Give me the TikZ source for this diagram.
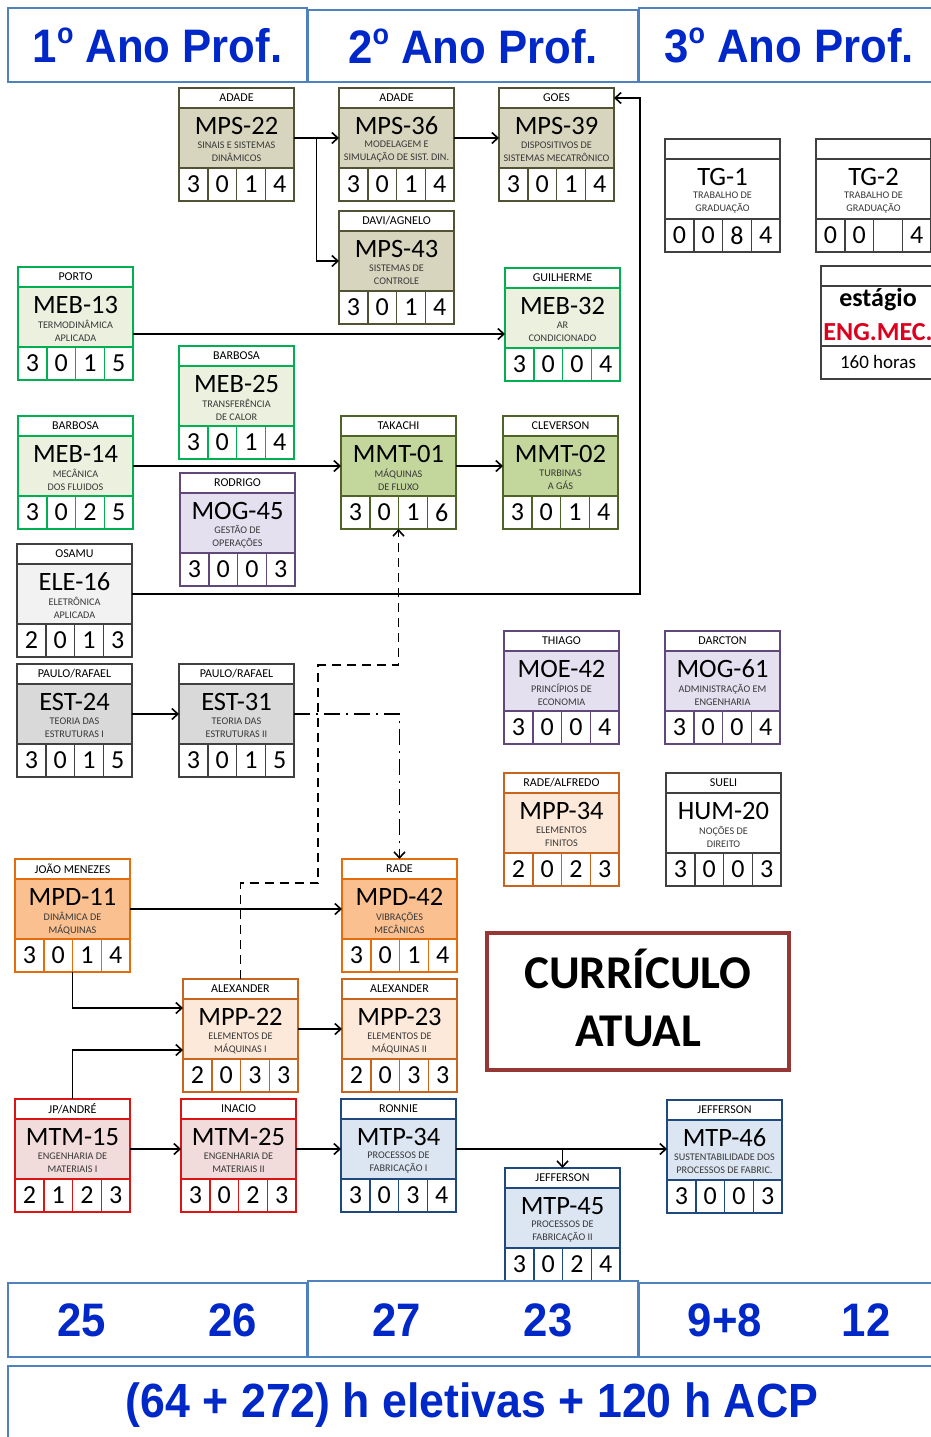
\documentclass[tikz,border=0pt]{standalone}
\usepackage{fontspec}
\setmainfont{Carlito}
\newfontfamily\headfont[FakeStretch=0.93]{Liberation Sans}
\usetikzlibrary{arrows.meta,fit,calc}

% course families: border (D) and band fill (F)
\definecolor{mpsD}{RGB}{82,82,52}   \definecolor{mpsF}{RGB}{216,213,190}
\definecolor{mebD}{RGB}{0,176,80}   \definecolor{mebF}{RGB}{235,241,222}
\definecolor{mmtD}{RGB}{79,98,40}   \definecolor{mmtF}{RGB}{195,214,155}
\definecolor{mogD}{RGB}{96,73,122}  \definecolor{mogF}{RGB}{229,224,240}
\definecolor{eleD}{RGB}{64,64,64}   \definecolor{eleF}{RGB}{242,242,242}
\definecolor{estD}{RGB}{64,64,64}   \definecolor{estF}{RGB}{217,217,217}
\definecolor{mpdD}{RGB}{228,108,10} \definecolor{mpdF}{RGB}{250,192,144}
\definecolor{mppD}{RGB}{200,100,30} \definecolor{mppF}{RGB}{253,233,217}
\definecolor{mtmD}{RGB}{220,20,20}  \definecolor{mtmF}{RGB}{242,220,219}
\definecolor{mtpD}{RGB}{31,73,125}  \definecolor{mtpF}{RGB}{220,230,242}
\definecolor{plainD}{RGB}{64,64,64} \definecolor{plainF}{RGB}{255,255,255}
\definecolor{hdrline}{RGB}{79,129,189}
\definecolor{hdrblue}{RGB}{0,40,200}
\definecolor{curred}{RGB}{150,55,53}
\definecolor{engred}{RGB}{220,0,30}

\newcommand\ordo{\raisebox{19pt}{\fontsize{29}{29}\selectfont o}}

\tikzset{
  every node/.style={outer sep=0pt},
  namebox/.style={draw, fill=white, line width=1.5pt, minimum width=115pt,
    minimum height=20pt, inner sep=0pt, font=\fontsize{12}{12}\selectfont},
  midbox/.style={draw, line width=1.5pt, minimum width=115pt,
    minimum height=60pt, inner sep=0pt},
  cellbox/.style={draw, fill=white, line width=1.5pt, minimum width=28.75pt,
    minimum height=33pt, inner sep=0pt, font=\fontsize{26}{26}\selectfont},
  codetext/.style={inner sep=0pt, font=\fontsize{26.5}{26.5}\selectfont},
  desctext/.style={inner sep=0pt, align=center,
    font=\fontsize{10.2}{13}\selectfont, text=black!78},
  hdrbox/.style={draw=hdrline, fill=white, line width=2pt, inner sep=0pt,
    text=hdrblue, font=\headfont\bfseries\fontsize{47}{47}\selectfont},
  numtext/.style={inner sep=0pt, text=hdrblue,
    font=\headfont\bfseries\fontsize{47}{47}\selectfont},
  conn/.style={line width=1.6pt, -{Straight Barb[length=6pt,width=11pt]}},
  dconn/.style={conn, dash pattern=on 9pt off 6pt},
  ddconn/.style={conn, dash pattern=on 16pt off 6pt on 2pt off 6pt},
}

% #1 id, #2 top-left, #3 family, #4 teacher, #5 code, #6 title, #7 credits
\newcommand\course[7]{%
  \node[namebox, draw=#3D, anchor=north west] (#1-t) at #2 {#4};
  \node[midbox, draw=#3D, fill=#3F, anchor=north] (#1-m) at (#1-t.south) {};
  \node[codetext] (#1-code) at ([yshift=-18pt]#1-m.north) {#5};
  \node[desctext] (#1-desc) at ([yshift=-44pt]#1-m.north) {#6};
  \foreach \cdig [count=\cidx] in {#7}{
    \node[cellbox, draw=#3D, anchor=north west] (#1-c\cidx)
      at ([xshift={(\cidx-1)*28.75pt}]#1-m.south west) {\cdig};
  }
  \node[fit=(#1-t)(#1-c4), inner sep=0pt] (#1) {};
}

\begin{document}
\begin{tikzpicture}[x=1pt,y=-1pt]
\fill[white] (0,0) rectangle (930,1437);
\useasboundingbox (0,0) rectangle (930,1437);

% year headers
\node[hdrbox, minimum width=299pt, minimum height=74pt, anchor=north west] (h1) at (8,8) {1\ordo\ Ano Prof.};
\node[hdrbox, minimum width=330pt, minimum height=72pt, anchor=north west] (h2) at (308,10) {2\ordo\ Ano Prof.};
\node[hdrbox, minimum width=300pt, minimum height=74pt, anchor=north west] (h3) at (639,8) {3\ordo\ Ano Prof.};

% courses
\course{mps22}{(179,88)}{mps}{ADADE}{MPS-22}{SINAIS E SISTEMAS\\DINÂMICOS}{3,0,1,4}
\course{mps36}{(339,88)}{mps}{ADADE}{MPS-36}{MODELAGEM E\\SIMULAÇÃO DE SIST. DIN.}{3,0,1,4}
\course{mps39}{(499,88)}{mps}{GOES}{MPS-39}{DISPOSITIVOS DE\\SISTEMAS MECATRÔNICO}{3,0,1,4}
\course{mps43}{(339,211)}{mps}{DAVI/AGNELO}{MPS-43}{SISTEMAS DE\\CONTROLE}{3,0,1,4}
\course{meb13}{(18,267)}{meb}{PORTO}{MEB-13}{TERMODINÂMICA\\APLICADA}{3,0,1,5}
\course{meb32}{(505,268)}{meb}{GUILHERME}{MEB-32}{AR\\CONDICIONADO}{3,0,0,4}
\course{meb25}{(179,346)}{meb}{BARBOSA}{MEB-25}{TRANSFERÊNCIA\\DE CALOR}{3,0,1,4}
\course{meb14}{(18,416)}{meb}{BARBOSA}{MEB-14}{MECÂNICA\\DOS FLUIDOS}{3,0,2,5}
\course{mmt01}{(341,416)}{mmt}{TAKACHI}{MMT-01}{MÁQUINAS\\DE FLUXO}{3,0,1,6}
\course{mmt02}{(503,416)}{mmt}{CLEVERSON}{MMT-02}{TURBINAS\\A GÁS}{3,0,1,4}
\course{mog45}{(180,473)}{mog}{RODRIGO}{MOG-45}{GESTÃO DE\\OPERAÇÕES}{3,0,0,3}
\course{ele16}{(17,544)}{ele}{OSAMU}{ELE-16}{ELETRÔNICA\\APLICADA}{2,0,1,3}
\course{est24}{(17,664)}{est}{PAULO/RAFAEL}{EST-24}{TEORIA DAS\\ESTRUTURAS I}{3,0,1,5}
\course{est31}{(179,664)}{est}{PAULO/RAFAEL}{EST-31}{TEORIA DAS\\ESTRUTURAS II}{3,0,1,5}
\course{moe42}{(504,631)}{mog}{THIAGO}{MOE-42}{PRINCÍPIOS DE\\ECONOMIA}{3,0,0,4}
\course{mog61}{(665,631)}{mog}{DARCTON}{MOG-61}{ADMINISTRAÇÃO EM\\ENGENHARIA}{3,0,0,4}
\course{mpp34}{(504,773)}{mpp}{RADE/ALFREDO}{MPP-34}{ELEMENTOS\\FINITOS}{2,0,2,3}
\course{hum20}{(666,773)}{plain}{SUELI}{HUM-20}{NOÇÕES DE\\DIREITO}{3,0,0,3}
\course{mpd11}{(15,859)}{mpd}{JOÃO MENEZES}{MPD-11}{DINÂMICA DE\\MÁQUINAS}{3,0,1,4}
\course{mpd42}{(342,859)}{mpd}{RADE}{MPD-42}{VIBRAÇÕES\\MECÂNICAS}{3,0,1,4}
\course{mpp22}{(183,979)}{mpp}{ALEXANDER}{MPP-22}{ELEMENTOS DE\\MÁQUINAS I}{2,0,3,3}
\course{mpp23}{(342,979)}{mpp}{ALEXANDER}{MPP-23}{ELEMENTOS DE\\MÁQUINAS II}{2,0,3,3}
\course{mtm15}{(15,1099)}{mtm}{JP/ANDRÉ}{MTM-15}{ENGENHARIA DE\\MATERIAIS I}{2,1,2,3}
\course{mtm25}{(181,1099)}{mtm}{INACIO}{MTM-25}{ENGENHARIA DE\\MATERIAIS II}{3,0,2,3}
\course{mtp34}{(341,1099)}{mtp}{RONNIE}{MTP-34}{PROCESSOS DE\\FABRICAÇÃO I}{3,0,3,4}
\course{mtp45}{(505,1168)}{mtp}{JEFFERSON}{MTP-45}{PROCESSOS DE\\FABRICAÇÃO II}{3,0,2,4}
\course{mtp46}{(667,1100)}{mtp}{JEFFERSON}{MTP-46}{SUSTENTABILIDADE DOS\\PROCESSOS DE FABRIC.}{3,0,0,3}
\course{tg1}{(665,139)}{plain}{}{TG-1}{TRABALHO DE\\GRADUAÇÃO}{0,0,8,4}
\course{tg2}{(816,139)}{plain}{}{TG-2}{TRABALHO DE\\GRADUAÇÃO}{0,0,{},4}

% internship box
\node[namebox, draw=plainD, anchor=north west] (stg-t) at (821,266) {};
\node[midbox, draw=plainD, fill=white, anchor=north] (stg-m) at (stg-t.south) {};
\node[draw=plainD, fill=white, line width=1.5pt, minimum width=115pt, minimum height=33pt,
      inner sep=0pt, anchor=north] (stg-b) at (stg-m.south) {};
\node[inner sep=0pt, anchor=base, font=\bfseries\fontsize{26}{26}\selectfont] (stg-a) at (878,306) {estágio};
\node[inner sep=0pt, anchor=base, text=engred, font=\bfseries\fontsize{26}{26}\selectfont] (stg-e) at (878,340) {ENG.MEC.};
\node[inner sep=0pt, anchor=base, font=\fontsize{19}{19}\selectfont] (stg-h) at (878,368) {160 horas};

% title box
\node[draw=curred, line width=4pt, fill=white, minimum width=302pt, minimum height=137pt,
      anchor=north west] (cur) at (487,933) {};
\node[inner sep=0pt, anchor=base, font=\bfseries\fontsize{47}{47}\selectfont] (cur-a) at (638,988) {CURRÍCULO};
\node[inner sep=0pt, anchor=base, font=\bfseries\fontsize{47}{47}\selectfont] (cur-b) at (638,1046) {ATUAL};

% credit totals
\node[hdrbox, minimum width=299pt, minimum height=74pt, anchor=north west] (b1) at (8,1283) {};
\node[hdrbox, minimum width=330pt, minimum height=76pt, anchor=north west] (b2) at (308,1281) {};
\node[hdrbox, minimum width=300pt, minimum height=74pt, anchor=north west] (b3) at (639,1283) {};
\node[numtext] (n1) at (82,1320) {25};
\node[numtext] (n2) at (233,1320) {26};
\node[numtext] (n3) at (397,1320) {27};
\node[numtext] (n4) at (548,1320) {23};
\node[numtext] (n5) at (725,1320) {9+8};
\node[numtext] (n6) at (866,1320) {12};
\node[hdrbox, minimum width=935pt, minimum height=80pt, anchor=north west] (b4) at (8,1366) {};
\node[numtext, font=\headfont\bfseries\fontsize{48}{48}\selectfont] (tot) at (472,1405) {(64 + 272) h eletivas + 120 h ACP};

% prerequisites
\coordinate (j1) at ($(mps22-m.east)!0.5!(mps36-m.west)$);
\draw[conn] (mps22-m.east) -- (mps36-m.west);
\draw[conn] (j1) |- (mps43-m.west);
\draw[conn] (mps36-m.east) -- (mps39-m.west);
\coordinate (r1) at ([xshift=26pt]mps39-t.east);
\draw[conn] (ele16-m.east) -| (r1) -- (mps39-t.east);
\coordinate (m13) at ([yshift=-17pt]meb13-m.east);
\draw[conn] (m13) -- (m13 -| meb32-m.west);
\draw[conn] (meb14-m.east) -- (mmt01-m.west);
\draw[conn] (mmt01-m.east) -- (mmt02-m.west);
\coordinate (d1) at (318,883);
\coordinate (d2) at (318,665);
\draw[dconn] (mpp22-t.north) |- (d1) -- (d2) -| (mmt01.south);
\draw[ddconn] (est31-m.east) -| (mpd42.north);
\draw[conn] (est24-m.east) -- (est31-m.west);
\draw[conn] (mpd11-m.east) -- (mpd42-m.west);
\coordinate (e1) at ([yshift=21pt]mpp22-m.west);
\coordinate (e2) at ([yshift=-21pt]mpp22-m.west);
\draw[conn] (mpd11-c2.south east) |- (e1);
\draw[conn] (mtm15-t.north) |- (e2);
\draw[conn] (mpp22-m.east) -- (mpp23-m.west);
\draw[conn] (mtm15-m.east) -- (mtm25-m.west);
\draw[conn] (mtm25-m.east) -- (mtp34-m.west);
\draw[conn] (mtp34-m.east) -- (mtp34-m.east -| mtp46-m.west);
\draw[conn] (mtp34-m.east -| mtp45-t.north) -- (mtp45-t.north);
\end{tikzpicture}
\end{document}
